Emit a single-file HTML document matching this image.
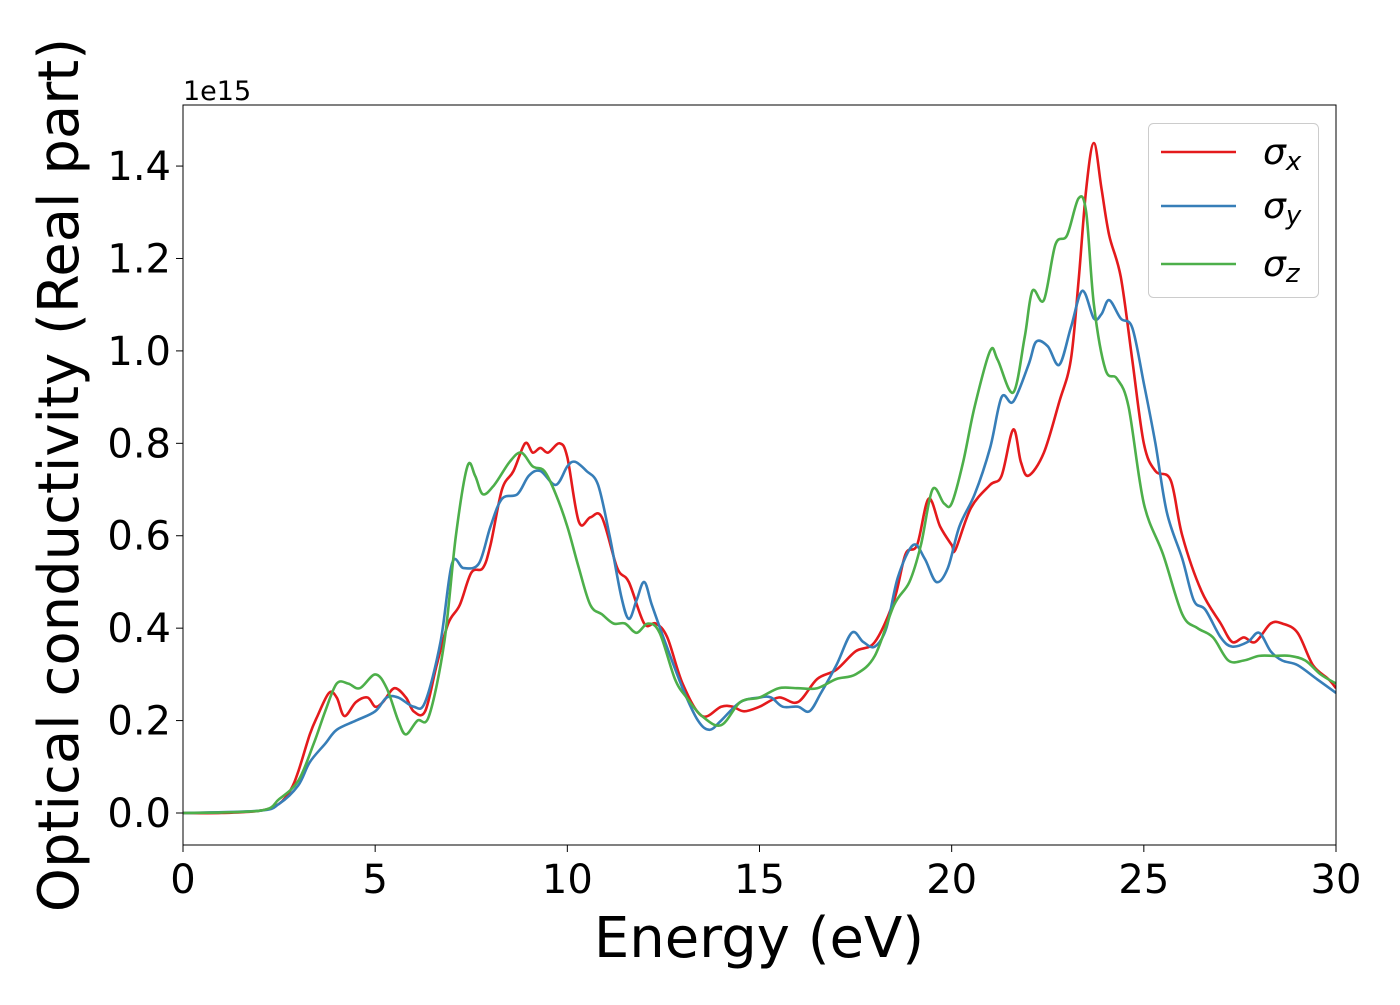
<!DOCTYPE html>
<html><head><meta charset="utf-8"><style>
html,body{margin:0;padding:0;background:#fff;}
svg text{font-family:"DejaVu Sans","Liberation Sans",sans-serif;fill:#000;}
</style></head><body>
<svg width="1400" height="1000" viewBox="0 0 1400 1000">
<g id="plot"></g>
</svg>
<script>
const energyX=[0,1,2,2.5,2.8,3,3.3,3.5,3.8,4.0,4.2,4.5,4.8,5.0,5.2,5.5,5.8,6.0,6.3,6.6,6.9,7.2,7.5,7.8,8.0,8.3,8.6,8.9,9.1,9.3,9.5,9.8,10.0,10.3,10.6,10.9,11.3,11.6,12.0,12.3,12.6,13.0,13.5,14.0,14.3,14.6,15.0,15.5,16.0,16.5,17.0,17.5,18.0,18.5,18.8,19.1,19.4,19.7,20.0,20.1,20.5,21.0,21.3,21.6,21.8,22.0,22.4,22.8,23.1,23.3,23.5,23.7,23.9,24.1,24.4,24.7,25.0,25.3,25.7,26.0,26.5,27.0,27.3,27.6,27.9,28.3,28.6,29.0,29.4,29.8,30];
const sigmaX=[0,0,0.005,0.02,0.05,0.09,0.17,0.21,0.26,0.25,0.21,0.24,0.25,0.23,0.24,0.27,0.25,0.22,0.22,0.32,0.41,0.45,0.52,0.53,0.58,0.70,0.74,0.80,0.78,0.79,0.78,0.80,0.77,0.63,0.64,0.64,0.53,0.50,0.41,0.41,0.38,0.28,0.21,0.23,0.23,0.22,0.23,0.25,0.24,0.29,0.31,0.35,0.37,0.46,0.56,0.58,0.68,0.62,0.58,0.57,0.66,0.71,0.73,0.83,0.76,0.73,0.78,0.89,0.98,1.15,1.35,1.45,1.35,1.25,1.16,0.98,0.80,0.74,0.72,0.60,0.48,0.41,0.37,0.38,0.37,0.41,0.41,0.39,0.32,0.29,0.27];
const energyY=[0,2,2.5,3,3.3,3.7,4.0,4.5,5.0,5.3,5.6,6.0,6.3,6.7,7.0,7.3,7.7,8.0,8.3,8.7,9.0,9.3,9.7,10.0,10.2,10.5,10.8,11.1,11.4,11.6,11.8,12.0,12.2,12.5,13.0,13.4,13.7,14.0,14.5,15.0,15.3,15.6,16.0,16.3,16.6,17.0,17.4,17.7,18.0,18.3,18.6,19.0,19.3,19.6,19.9,20.2,20.6,21.0,21.3,21.6,22.0,22.2,22.5,22.8,23.1,23.4,23.7,23.9,24.1,24.4,24.7,25.0,25.3,25.6,26.0,26.3,26.6,27.0,27.3,27.7,28.0,28.3,28.6,29.0,29.5,30];
const sigmaY=[0,0.005,0.02,0.06,0.11,0.15,0.18,0.20,0.22,0.25,0.25,0.23,0.24,0.37,0.54,0.53,0.54,0.62,0.68,0.69,0.73,0.74,0.71,0.75,0.76,0.74,0.71,0.60,0.47,0.42,0.46,0.50,0.45,0.38,0.27,0.20,0.18,0.20,0.24,0.25,0.25,0.23,0.23,0.22,0.26,0.32,0.39,0.37,0.36,0.40,0.51,0.58,0.55,0.50,0.53,0.62,0.69,0.79,0.90,0.89,0.97,1.02,1.01,0.97,1.05,1.13,1.07,1.08,1.11,1.07,1.05,0.93,0.80,0.65,0.55,0.46,0.44,0.38,0.36,0.37,0.39,0.35,0.33,0.32,0.29,0.26];
const energyZ=[0,2,2.5,3,3.4,3.7,4.0,4.3,4.6,5.0,5.3,5.6,5.8,6.1,6.4,6.8,7.1,7.4,7.6,7.8,8.1,8.5,8.8,9.1,9.4,9.7,10.0,10.3,10.6,10.9,11.2,11.5,11.8,12.1,12.4,12.8,13.1,13.5,14.0,14.5,15.0,15.5,16.0,16.5,17.0,17.5,18.0,18.5,18.9,19.2,19.5,19.8,20.0,20.3,20.6,21.0,21.2,21.6,21.9,22.1,22.4,22.7,23.0,23.3,23.5,23.7,24.0,24.3,24.6,25.0,25.5,26.0,26.4,26.8,27.2,27.6,28.0,28.4,28.8,29.2,29.6,30];
const sigmaZ=[0,0.005,0.03,0.07,0.15,0.22,0.28,0.28,0.27,0.30,0.27,0.20,0.17,0.20,0.21,0.37,0.60,0.75,0.73,0.69,0.71,0.76,0.78,0.75,0.74,0.69,0.62,0.53,0.45,0.43,0.41,0.41,0.39,0.41,0.39,0.29,0.25,0.21,0.19,0.24,0.25,0.27,0.27,0.27,0.29,0.30,0.34,0.45,0.50,0.58,0.70,0.67,0.67,0.76,0.88,1.00,0.98,0.91,1.03,1.13,1.11,1.23,1.25,1.33,1.30,1.10,0.96,0.94,0.88,0.67,0.56,0.43,0.40,0.38,0.33,0.33,0.34,0.34,0.34,0.33,0.30,0.28];
const xTicks=[0,5,10,15,20,25,30];
const yTicks=[0,0.2,0.4,0.6,0.8,1.0,1.2,1.4];
const yTickLabels=["0.0","0.2","0.4","0.6","0.8","1.0","1.2","1.4"];

const L=183,R=1336,T=105,B=845;
const xs=v=>L+(v-0)/(30-0)*(R-L);
const ys=v=>813-v*462.1;
const NS="http://www.w3.org/2000/svg";
const g=document.getElementById('plot');
function mk(tag,attrs,parent){const e=document.createElementNS(NS,tag);for(const k in attrs)e.setAttribute(k,attrs[k]);(parent||g).appendChild(e);return e;}
function smoothPath(xa,ya){
  const p=xa.map((x,i)=>[xs(x),ys(ya[i])]);
  let d='M'+p[0][0].toFixed(1)+','+p[0][1].toFixed(1);
  for(let i=0;i<p.length-1;i++){
    const p0=p[Math.max(0,i-1)],p1=p[i],p2=p[i+1],p3=p[Math.min(p.length-1,i+2)];
    const c1x=p1[0]+(p2[0]-p0[0])/6,c1y=p1[1]+(p2[1]-p0[1])/6;
    const c2x=p2[0]-(p3[0]-p1[0])/6,c2y=p2[1]-(p3[1]-p1[1])/6;
    d+=' C'+c1x.toFixed(1)+','+c1y.toFixed(1)+' '+c2x.toFixed(1)+','+c2y.toFixed(1)+' '+p2[0].toFixed(1)+','+p2[1].toFixed(1);
  }
  return d;
}
const clip=mk('clipPath',{id:'pc'});mk('rect',{x:L,y:T,width:R-L,height:B-T},clip);
const series=[[energyX,sigmaX,'#e41a1c','sigma-x-line'],[energyY,sigmaY,'#377eb8','sigma-y-line'],[energyZ,sigmaZ,'#4daf4a','sigma-z-line']];
series.forEach(s=>{
  const e=mk('path',{d:smoothPath(s[0],s[1]),fill:'none',stroke:s[2],'stroke-width':2.6,'clip-path':'url(#pc)'});
  
  
});
const frame=mk('rect',{x:L,y:T,width:R-L,height:B-T,fill:'none',stroke:'#000','stroke-width':1});


xTicks.forEach(v=>{
  mk('line',{x1:xs(v),x2:xs(v),y1:B,y2:B+7,stroke:'#000','stroke-width':1});
  const t=mk('text',{x:xs(v),y:B+48,'font-size':40,'text-anchor':'middle'});t.textContent=v;
  
  
});
yTicks.forEach((v,i)=>{
  mk('line',{x1:L-7,x2:L,y1:ys(v),y2:ys(v),stroke:'#000','stroke-width':1});
  const t=mk('text',{x:L-12,y:ys(v)+14,'font-size':40,'text-anchor':'end'});t.textContent=yTickLabels[i];
  
  
});
</script>
<svg width="1400" height="1000" style="position:absolute;left:0;top:0">
<text x="183" y="100" font-size="27">1e15</text>
<text x="759" y="957" font-size="56" text-anchor="middle">Energy (eV)</text>
<text transform="translate(78,475) rotate(-90)" font-size="56" text-anchor="middle">Optical conductivity (Real part)</text>
<g>
<rect x="1148.5" y="123.5" width="170" height="174" rx="5" fill="#fff" fill-opacity="0.8" stroke="#ccc" stroke-width="1"/>
<line x1="1161" x2="1236" y1="152" y2="152" stroke="#e41a1c" stroke-width="2.6"/>
<line x1="1161" x2="1236" y1="206" y2="206" stroke="#377eb8" stroke-width="2.6"/>
<line x1="1161" x2="1236" y1="264" y2="264" stroke="#4daf4a" stroke-width="2.6"/>
<text x="1263" y="164" font-size="36" font-style="italic">σ<tspan font-size="26" dy="6">x</tspan></text>
<text x="1263" y="218" font-size="36" font-style="italic">σ<tspan font-size="26" dy="6">y</tspan></text>
<text x="1263" y="276" font-size="36" font-style="italic">σ<tspan font-size="26" dy="6">z</tspan></text>
</g>
</svg>
</body></html>
